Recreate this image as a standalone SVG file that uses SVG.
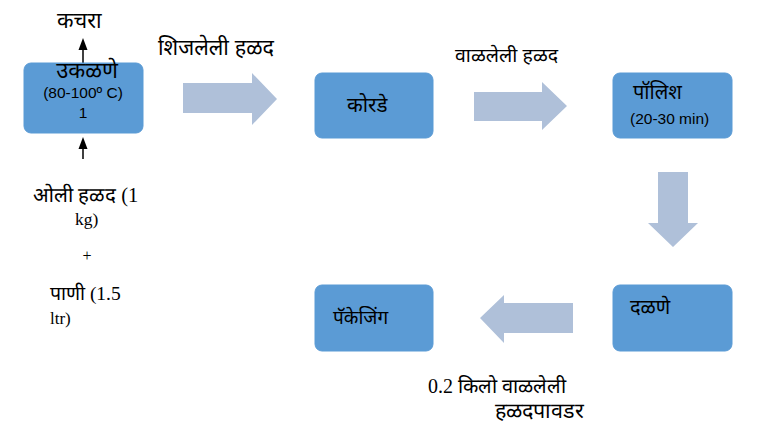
<svg xmlns="http://www.w3.org/2000/svg" width="763" height="445" viewBox="0 0 763 445">
<style>
.box{fill:#5B9BD5;stroke:#5B9BD5;stroke-width:1}
.blk{fill:#AFC0D9}
.t{font-family:"Liberation Sans","Noto Sans",sans-serif;fill:#000}
.s{font-family:"Liberation Serif","Noto Serif",serif;fill:#000}
.ln{stroke:#000;stroke-width:1.5;fill:none}
.hd{fill:#000}
</style>
<rect width="763" height="445" fill="#fff"/>
<g id="connectors">
<line class="ln" x1="83" y1="63" x2="83" y2="48"/>
<path class="hd" d="M83,38 L87.5,50 L78.5,50 Z"/>
<line class="ln" x1="83" y1="159" x2="83" y2="147"/>
<path class="hd" d="M83,137 L87.5,149 L78.5,149 Z"/>
<path class="blk" d="M183,83 H252 V73 L277,99 L252,125 V113 H183 Z"/>
<path class="blk" d="M474,92 H542 V82 L567,106 L542,130 V121 H474 Z"/>
<path class="blk" d="M658,172 H688 V223 H698 L673,247 L648,223 H658 Z"/>
<path class="blk" d="M573,303 H504 V295 L480,318 L504,343 V333 H573 Z"/>
<text class="t" x="158" y="55" font-size="21.5">शिजलेली हळद</text>
<text class="t" x="455" y="62" font-size="19.5">वाळलेली हळद</text>
<text class="t" x="57" y="28" font-size="21.5">कचरा</text>
<text class="s" x="428" y="393" font-size="20">0.2 किलो वाळलेली</text>
<text class="s" x="495" y="418" font-size="21.5">हळदपावडर</text>
</g>
<g id="n1">
<rect class="box" x="24" y="63" width="119" height="70" rx="7"/>
<text class="t" x="87" y="78" font-size="22" text-anchor="middle">उकळणे</text>
<text class="t" x="83" y="98" font-size="15.5" text-anchor="middle">(80-100º C)</text>
<text class="t" x="83" y="118" font-size="15.5" text-anchor="middle">1</text>
</g>
<g id="input">
<text class="s" x="33" y="202" font-size="20.5">ओली हळद (1</text>
<text class="s" x="75" y="225" font-size="17.5">kg)</text>
<text class="s" x="87" y="261" font-size="16" text-anchor="middle">+</text>
<text class="s" x="50" y="300" font-size="19.5">पाणी (1.5</text>
<text class="s" x="50" y="324" font-size="17">ltr)</text>
</g>
<g id="n2">
<rect class="box" x="315" y="73" width="118" height="65" rx="7"/>
<text class="t" x="347" y="112" font-size="20.5">कोरडे</text>
</g>
<g id="n3">
<rect class="box" x="613" y="73" width="119" height="65" rx="7"/>
<text class="t" x="633" y="99" font-size="20">पॉलिश</text>
<text class="t" x="630" y="124" font-size="15.5">(20-30 min)</text>
</g>
<g id="n4">
<rect class="box" x="613" y="285" width="119" height="66" rx="7"/>
<text class="t" x="630" y="314" font-size="20">दळणे</text>
</g>
<g id="n5">
<rect class="box" x="315" y="285" width="118" height="66" rx="7"/>
<text class="t" x="333" y="324" font-size="19">पॅकेजिंग</text>
</g>
</svg>
